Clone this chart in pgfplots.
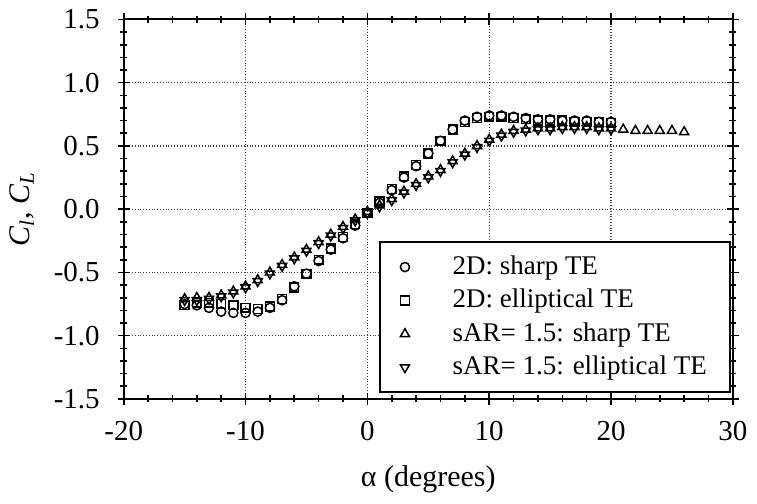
\documentclass[border=0pt]{standalone}
\usepackage{pgfplots}
\pgfplotsset{compat=1.18}
\usepackage{fontspec}
\setmainfont{Liberation Serif}
\begin{document}
\fontsize{14.5}{17}\selectfont
\begin{tikzpicture}
\begin{axis}[
  scale only axis,
  width=305pt, height=190pt,
  xmin=-20, xmax=30, ymin=-1.5, ymax=1.5,
  xtick={-20,-10,0,10,20,30},
  ytick={-1.5,-1.0,-0.5,0,0.5,1.0,1.5},
  yticklabel style={xshift=-4pt, /pgf/number format/fixed, /pgf/number format/fixed zerofill, /pgf/number format/precision=1},
  /pgf/number format/assume math mode=true,
  minor x tick num=4, minor y tick num=4,
  tick align=center,
  major tick length=6pt, minor tick length=3.5pt,
  axis line style={line width=1pt},
  grid=major,
  major grid style={densely dotted, black!75, line width=0.6pt},
  every tick/.style={black, line width=0.8pt},
  xlabel={α (degrees)},
  ylabel={\textit{C}\textsubscript{\textit{l}}, \textit{C}\textsubscript{\textit{L}}},
  xlabel style={yshift=-3pt},
  xticklabel style={yshift=-3pt},
  tick label style={font=\fontsize{14.5}{17}\selectfont},
  label style={font=\fontsize{15}{18}\selectfont},
  legend style={at={(rel axis cs:0.997,0.015)}, anchor=south east,
    draw=black, line width=1.1pt, font=\fontsize{13.5}{16}\selectfont,
    row sep=2pt, column sep=20pt, inner xsep=10pt, inner ysep=5pt,
    nodes={inner sep=1.6pt}, cells={anchor=west}},
  legend cell align=left,
  every axis plot/.append style={only marks, black, line width=0.75pt, mark options={solid, fill=white}},
]
\addplot[mark=o, mark size=2.3pt] coordinates {
(-15,-0.75) (-14,-0.76) (-13,-0.78) (-12,-0.81) (-11,-0.82) (-10,-0.82) (-9,-0.81) (-8,-0.78)
(-7,-0.72) (-6,-0.61) (-5,-0.51) (-4,-0.41) (-3,-0.32) (-2,-0.23) (-1,-0.13) (0,-0.03)
(1,0.05) (2,0.15) (3,0.25) (4,0.34) (5,0.44) (6,0.54) (7,0.63) (8,0.70) (9,0.73) (10,0.74)
(11,0.74) (12,0.73) (13,0.72) (14,0.71) (15,0.71) (16,0.70) (17,0.70) (18,0.70) (19,0.69) (20,0.69)
};
\addlegendentry{2D: sharp TE}
\addplot[mark=square, mark size=2.2pt] coordinates {
(-15,-0.76) (-14,-0.74) (-13,-0.74) (-12,-0.75) (-11,-0.76) (-10,-0.78) (-9,-0.79) (-8,-0.77)
(-7,-0.71) (-6,-0.62) (-5,-0.51) (-4,-0.40) (-3,-0.31) (-2,-0.22) (-1,-0.12) (0,-0.03)
(1,0.06) (2,0.16) (3,0.26) (4,0.35) (5,0.44) (6,0.54) (7,0.63) (8,0.69) (9,0.72) (10,0.73)
(11,0.73) (12,0.72) (13,0.71) (14,0.70) (15,0.70) (16,0.70) (17,0.69) (18,0.69) (19,0.69) (20,0.68)
};
\addlegendentry{2D: elliptical TE}
\addplot[mark=triangle, mark size=2.6pt] coordinates {
(-15,-0.71) (-14,-0.70) (-13,-0.70) (-12,-0.68) (-11,-0.65) (-10,-0.61) (-9,-0.56) (-8,-0.50)
(-7,-0.44) (-6,-0.38) (-5,-0.32) (-4,-0.26) (-3,-0.20) (-2,-0.14) (-1,-0.08) (0,-0.02)
(1,0.03) (2,0.08) (3,0.14) (4,0.20) (5,0.26) (6,0.31) (7,0.38) (8,0.44) (9,0.50) (10,0.55)
(11,0.59) (12,0.62) (13,0.63) (14,0.64) (15,0.64) (16,0.65) (17,0.65) (18,0.65) (19,0.64) (20,0.64)
(21,0.63) (22,0.62) (23,0.62) (24,0.62) (25,0.62) (26,0.61)
};
\addlegendentry{sAR= 1.5: sharp TE}
\addplot[mark=triangle, mark size=2.6pt, mark options={rotate=180}] coordinates {
(-15,-0.72) (-14,-0.72) (-13,-0.71) (-12,-0.69) (-11,-0.66) (-10,-0.62) (-9,-0.57) (-8,-0.51)
(-7,-0.45) (-6,-0.39) (-5,-0.33) (-4,-0.27) (-3,-0.21) (-2,-0.15) (-1,-0.09) (0,-0.03)
(1,0.02) (2,0.07) (3,0.13) (4,0.19) (5,0.25) (6,0.30) (7,0.37) (8,0.43) (9,0.49) (10,0.54)
(11,0.58) (12,0.61) (13,0.62) (14,0.63) (15,0.63) (16,0.64) (17,0.64) (18,0.64) (19,0.63) (20,0.63)
};
\addlegendentry{sAR= 1.5: elliptical TE}
\end{axis}
\end{tikzpicture}
\end{document}
